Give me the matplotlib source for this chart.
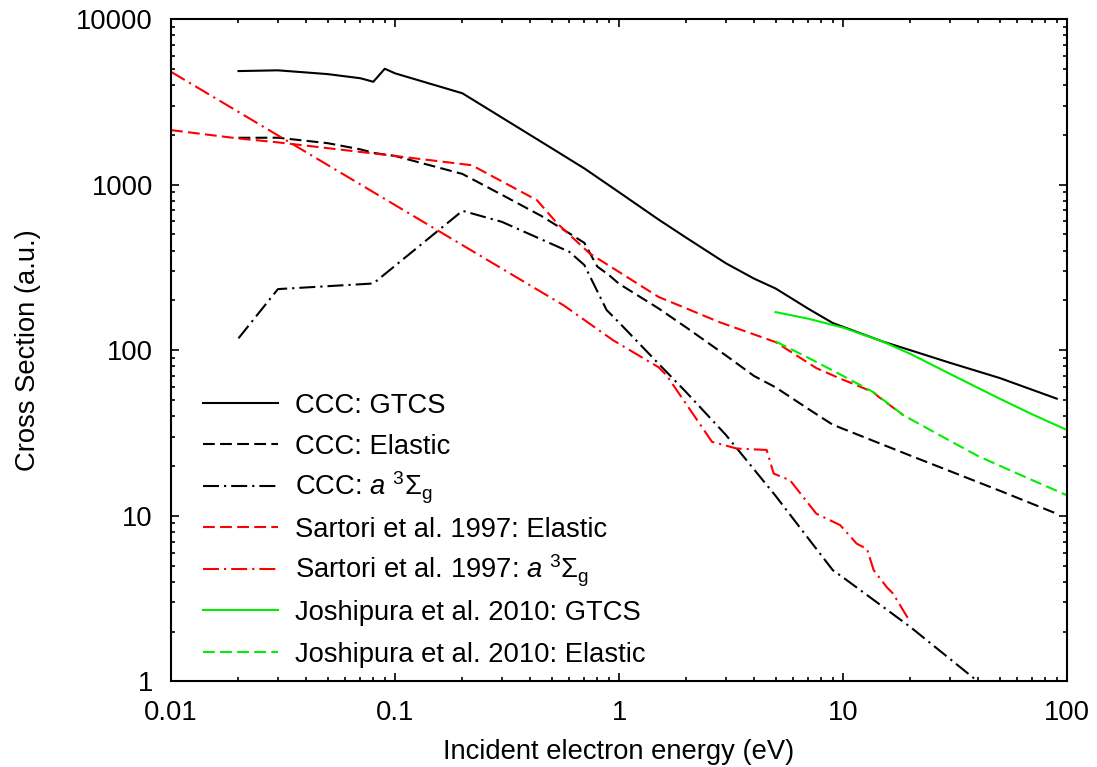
import matplotlib
matplotlib.use("Agg")
import matplotlib.pyplot as plt
from matplotlib.ticker import LogLocator, FixedLocator, FixedFormatter, NullFormatter

plt.rcParams["font.family"] = ["Liberation Sans", "DejaVu Sans"]
plt.rcParams["mathtext.fontset"] = "custom"
plt.rcParams["mathtext.rm"] = "Liberation Sans"
plt.rcParams["mathtext.it"] = "Liberation Sans:italic"
plt.rcParams["mathtext.bf"] = "Liberation Sans:bold"
plt.rcParams["lines.scale_dashes"] = False

FS = 19.7

# --- CCC results --------------------------------------------------------------
ccc_gtcs_e = [0.02, 0.03, 0.05, 0.07, 0.08, 0.09, 0.1, 0.2, 0.3, 0.5, 0.7, 1.0,
              1.5, 2.0, 3.0, 4.0, 5.0, 7.0, 9.0, 15.0, 20.0, 30.0, 50.0, 90.0]
ccc_gtcs_cs = [4850, 4900, 4650, 4390, 4180, 5010, 4700, 3560, 2540, 1660, 1253, 900,
               616, 477, 335, 271, 236, 178, 146, 113, 100, 84, 68, 51]

ccc_el_e = [0.02, 0.03, 0.05, 0.07, 0.08, 0.09, 0.1, 0.2, 0.3, 0.45, 0.6, 0.7, 0.8,
            0.9, 1.0, 1.5, 2.0, 3.0, 4.0, 5.0, 7.0, 9.0, 20.0, 50.0, 90.0]
ccc_el_cs = [1918, 1920, 1780, 1634, 1556, 1520, 1490, 1160, 868, 647, 508, 445, 320,
             285, 252, 179, 137, 93, 70, 59.7, 44.2, 35.5, 23.1, 14.2, 10.3]

ccc_a3_e = [0.02, 0.03, 0.08, 0.2, 0.3, 0.6, 0.7, 0.88, 1.0, 1.5, 2.0, 3.0, 5.0,
            7.0, 9.0, 10.0, 20.0, 40.0, 100.0]
ccc_a3_cs = [118, 234, 253, 695, 596, 393, 327, 175, 147, 83, 55.6, 30.8, 13.2,
             7.3, 4.7, 4.25, 2.13, 1.0, 0.37]

# --- Sartori et al. 1997 --------------------------------------------------------
sart_el_e = [0.01, 0.02, 0.03, 0.08, 0.1, 0.22, 0.43, 0.53, 0.74, 1.5, 2.8, 5.0,
             7.6, 9.7, 13.6, 14.5, 18.6]
sart_el_cs = [2134, 1900, 1800, 1543, 1490, 1310, 806, 583, 384, 210, 148, 112,
              78, 67.5, 56, 52, 40.5]

sart_a3_e = [0.01, 0.1, 0.565, 0.94, 1.5, 1.63, 2.6, 3.35, 4.56, 4.9, 5.8, 7.6,
             9.7, 11.5, 12.8, 13.7, 15.7, 16.7, 19.9]
sart_a3_cs = [4800, 753, 187, 115, 79, 70.6, 28, 25.5, 25, 18, 16.4, 10.3,
              8.8, 6.8, 6.3, 4.7, 3.7, 3.4, 2.3]

# --- Joshipura et al. 2010 ------------------------------------------------------
jos_gtcs_e = [5, 7, 10, 15, 20, 30, 50, 70, 100]
jos_gtcs_cs = [170, 155, 137, 113, 95, 72, 51, 41, 33]

jos_el_e = [5, 7, 10, 13.6, 18.6, 30, 40, 60, 100]
jos_el_cs = [113, 90, 70, 56, 40.5, 28.4, 23, 18, 13.3]

A3 = r"$a\ {}^{3}\Sigma_{\mathrm{g}}$"
DASH = (0, (8.5, 3.8))
DASHDOT = (0, (11.5, 3.6, 1.6, 3.6))
RED = "#ff0000"
GREEN = "#00ee00"

series = [
    (ccc_gtcs_e, ccc_gtcs_cs, "black", "-", "CCC: GTCS"),
    (ccc_el_e, ccc_el_cs, "black", DASH, "CCC: Elastic"),
    (ccc_a3_e, ccc_a3_cs, "black", DASHDOT, "CCC: " + A3),
    (sart_el_e, sart_el_cs, RED, DASH, "Sartori et al. 1997: Elastic"),
    (sart_a3_e, sart_a3_cs, RED, DASHDOT, "Sartori et al. 1997: " + A3),
    (jos_gtcs_e, jos_gtcs_cs, GREEN, "-", "Joshipura et al. 2010: GTCS"),
    (jos_el_e, jos_el_cs, GREEN, DASH, "Joshipura et al. 2010: Elastic"),
]

fig = plt.figure(figsize=(10.97, 7.67), dpi=100)
ax = fig.add_axes([0.1559, 0.1115, 0.8168, 0.8637])

for e, cs, col, ls, lab in series:
    ax.plot(e, cs, color=col, linestyle=ls, linewidth=1.5)

ax.set_xscale("log")
ax.set_yscale("log")
ax.set_xlim(0.01, 100)
ax.set_ylim(1, 10000)

xt = [0.01, 0.1, 1, 10, 100]
yt = [1, 10, 100, 1000, 10000]
ax.xaxis.set_major_locator(FixedLocator(xt))
ax.xaxis.set_major_formatter(FixedFormatter(["0.01", "0.1", "1", "10", "100"]))
ax.yaxis.set_major_locator(FixedLocator(yt))
ax.yaxis.set_major_formatter(FixedFormatter(["1", "10", "100", "1000", "10000"]))
for axis in (ax.xaxis, ax.yaxis):
    axis.set_minor_locator(LogLocator(base=10, subs=range(2, 10), numticks=20))
    axis.set_minor_formatter(NullFormatter())

ax.tick_params(which="both", direction="in", top=True, right=True,
               labelsize=FS, width=1.2)
ax.tick_params(which="major", length=6)
ax.tick_params(which="minor", length=3.2)
ax.tick_params(axis="x", which="major", pad=13)
ax.tick_params(axis="y", which="major", pad=13)
for sp in ax.spines.values():
    sp.set_linewidth(1.5)

ax.set_xlabel("Incident electron energy (eV)", fontsize=FS, va="center")
ax.xaxis.set_label_coords(0.5, -0.1064)
ax.set_ylabel("Cross Section (a.u.)", fontsize=FS, va="center")
ax.yaxis.set_label_coords(-0.1596, 0.5)

# key drawn row by row so the spacing stays even
row_y = [0.4204, 0.3585, 0.2951, 0.2332, 0.1698, 0.1079, 0.0445]
for (e, cs, col, ls, lab), y in zip(series, row_y):
    ax.plot([0.0357, 0.1194], [y, y], transform=ax.transAxes, color=col,
            linestyle=ls, linewidth=1.5, clip_on=False)
    ax.text(0.1384, y - 0.0151, lab, transform=ax.transAxes, fontsize=FS,
            ha="left", va="baseline")

fig.savefig("out.png", dpi=100)
